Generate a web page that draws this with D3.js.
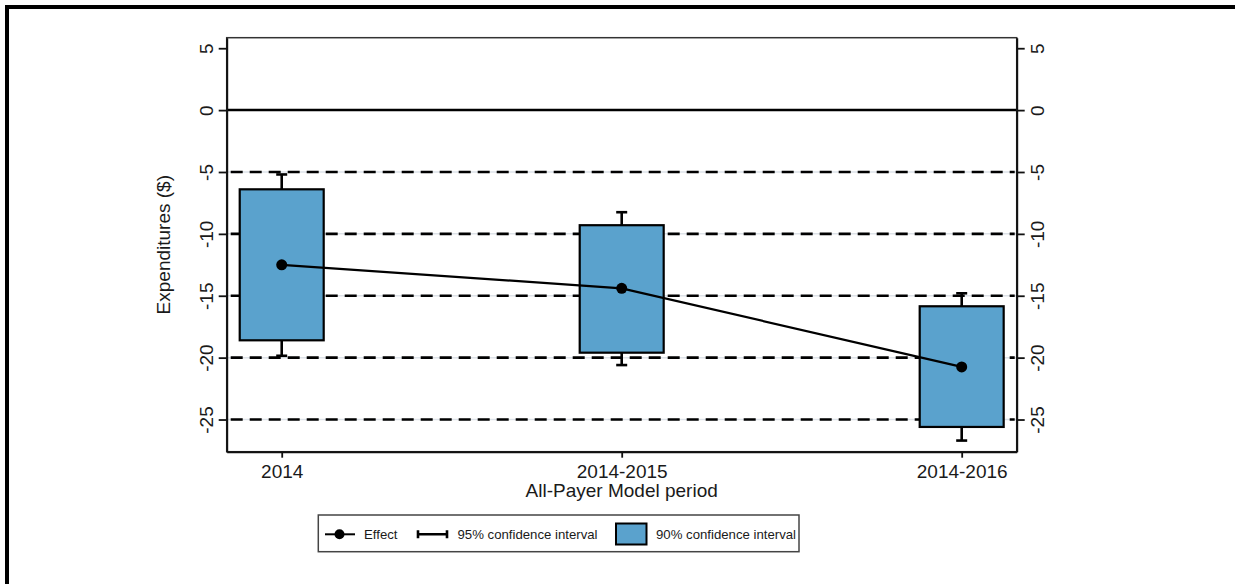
<!DOCTYPE html>
<html>
<head>
<meta charset="utf-8">
<script src="https://cdn.jsdelivr.net/npm/d3@7"></script>
<style>
  body { margin: 0; background: #fff; }
  text { font-family: "Liberation Sans", Arial, sans-serif; fill: #1a1a1a; }
</style>
</head>
<body>
<div id="root"></div>
<script>
// data
const categories = ["2014", "2014-2015", "2014-2016"]
const effect = [-12.5, -14.4, -20.75]
const ci90Lo = [-18.6, -19.6, -25.6]
const ci90Hi = [-6.4, -9.3, -15.85]
const ci95Lo = [-19.85, -20.6, -26.7]
const ci95Hi = [-5.2, -8.25, -14.8]
const yTicks = [5, 0, -5, -10, -15, -20, -25]
const dashedAt = [-5, -10, -15, -20, -25]

const w = 1235
const h = 584
const pLeft = 226.7, pRight = 1016.7, pTop = 37.7, pBottom = 451.7
const boxColor = "#5aa2cd"

const svg = d3.select("#root")
    .append("svg")
    .attr("width", w)
    .attr("height", h)

// outer frame (top and left only)
svg.append("path")
    .attr("d", `M7,${h} V7 H${w}`)
    .attr("fill", "none")
    .attr("stroke", "#000")
    .attr("stroke-width", 4)

const x = d3.scalePoint()
    .domain(categories)
    .range([pLeft, pRight])
    .padding(0.1618)

const y = d3.scaleLinear()
    .domain([-27.6, 5.85])
    .range([pBottom, pTop])

const boxW = x.step() * 0.247
const capW = 11

// light grid under the dashed lines
svg.append("g").selectAll("line")
    .data(dashedAt)
    .enter()
    .append("line")
    .attr("x1", pLeft).attr("x2", pRight)
    .attr("y1", d => y(d)).attr("y2", d => y(d))
    .attr("stroke", "#dde2e8")
    .attr("stroke-width", 1.5)

// dashed reference lines
svg.append("g").selectAll("line")
    .data(dashedAt)
    .enter()
    .append("line")
    .attr("x1", pLeft + 4).attr("x2", pRight - 2)
    .attr("y1", d => y(d)).attr("y2", d => y(d))
    .attr("stroke", "#000")
    .attr("stroke-width", 2.6)
    .attr("stroke-dasharray", "12,7")

// zero line
svg.append("line")
    .attr("x1", pLeft).attr("x2", pRight)
    .attr("y1", y(0)).attr("y2", y(0))
    .attr("stroke", "#000")
    .attr("stroke-width", 2.5)

const idx = d3.range(categories.length)

// 95% whiskers
const wh = svg.append("g")
    .attr("stroke", "#000")
    .attr("stroke-width", 2.6)
wh.selectAll("line.v")
    .data(idx)
    .enter()
    .append("line")
    .attr("class", "v")
    .attr("x1", i => x(categories[i])).attr("x2", i => x(categories[i]))
    .attr("y1", i => y(ci95Lo[i])).attr("y2", i => y(ci95Hi[i]))
wh.selectAll("line.cap")
    .data(idx.flatMap(i => [[i, ci95Lo[i]], [i, ci95Hi[i]]]))
    .enter()
    .append("line")
    .attr("class", "cap")
    .attr("x1", d => x(categories[d[0]]) - capW / 2)
    .attr("x2", d => x(categories[d[0]]) + capW / 2)
    .attr("y1", d => y(d[1])).attr("y2", d => y(d[1]))

// 90% boxes
svg.append("g").selectAll("rect")
    .data(idx)
    .enter()
    .append("rect")
    .attr("x", i => x(categories[i]) - boxW / 2)
    .attr("width", boxW)
    .attr("y", i => y(ci90Hi[i]))
    .attr("height", i => y(ci90Lo[i]) - y(ci90Hi[i]))
    .attr("fill", boxColor)
    .attr("stroke", "#000")
    .attr("stroke-width", 2.2)

// effect line and points
const line = d3.line()
    .x(i => x(categories[i]))
    .y(i => y(effect[i]))

svg.append("path")
    .attr("d", line(idx))
    .attr("fill", "none")
    .attr("stroke", "#000")
    .attr("stroke-width", 2.2)

svg.append("g").selectAll("circle")
    .data(idx)
    .enter()
    .append("circle")
    .attr("cx", i => x(categories[i]))
    .attr("cy", i => y(effect[i]))
    .attr("r", 5.5)
    .attr("fill", "#000")

// plot region outline
svg.append("rect")
    .attr("x", pLeft).attr("y", pTop)
    .attr("width", pRight - pLeft).attr("height", pBottom - pTop)
    .attr("fill", "none")
    .attr("stroke", "#333")
    .attr("stroke-width", 1.5)

// axes
const fmt = d => String(d)
const yLeft = svg.append("g")
    .attr("transform", `translate(${pLeft},0)`)
    .call(d3.axisLeft(y).tickValues(yTicks).tickSize(8).tickSizeOuter(0).tickFormat(fmt))
yLeft.selectAll("text")
    .attr("x", null).attr("dy", null)
    .attr("text-anchor", "middle")
    .attr("transform", "translate(-14,0) rotate(-90)")

const yRight = svg.append("g")
    .attr("transform", `translate(${pRight},0)`)
    .call(d3.axisRight(y).tickValues(yTicks).tickSize(8).tickSizeOuter(0).tickFormat(fmt))
yRight.selectAll("text")
    .attr("x", null).attr("dy", null)
    .attr("text-anchor", "middle")
    .attr("transform", "translate(27,0) rotate(-90)")

const xAxis = svg.append("g")
    .attr("transform", `translate(0,${pBottom})`)
    .call(d3.axisBottom(x).tickSize(6).tickSizeOuter(0))
xAxis.selectAll("text")
    .attr("y", 26).attr("dy", null)

for (const g of [yLeft, yRight, xAxis]) {
    g.attr("font-family", null).attr("font-size", null)
    g.selectAll("text").style("font-size", "19px").attr("fill", "#1a1a1a")
    g.select(".domain").attr("stroke", "#111").attr("stroke-width", 2)
    g.selectAll(".tick line").attr("stroke", "#111").attr("stroke-width", 1.8)
}

// axis titles
svg.append("text")
    .attr("x", (pLeft + pRight) / 2)
    .attr("y", 497)
    .attr("text-anchor", "middle")
    .style("font-size", "19px")
    .text("All-Payer Model period")

svg.append("text")
    .attr("transform", `translate(170,${(pTop + pBottom) / 2}) rotate(-90)`)
    .attr("text-anchor", "middle")
    .style("font-size", "19px")
    .text("Expenditures ($)")

// legend
const lg = svg.append("g")
const ly = 534.3
lg.append("rect")
    .attr("x", 318.3).attr("y", 515)
    .attr("width", 799 - 318.3).attr("height", 551.7 - 515)
    .attr("fill", "#fff")
    .attr("stroke", "#444")
    .attr("stroke-width", 1.5)

lg.append("line")
    .attr("x1", 325).attr("x2", 355)
    .attr("y1", ly).attr("y2", ly)
    .attr("stroke", "#000").attr("stroke-width", 2)
lg.append("circle")
    .attr("cx", 339.5).attr("cy", ly).attr("r", 5)
    .attr("fill", "#000")

lg.append("path")
    .attr("d", `M418,${ly} H447 M418,${ly - 4} V${ly + 4} M447,${ly - 4} V${ly + 4}`)
    .attr("stroke", "#000").attr("stroke-width", 2.6)
    .attr("fill", "none")

lg.append("rect")
    .attr("x", 616).attr("y", 523.5)
    .attr("width", 30.5).attr("height", 21)
    .attr("fill", boxColor)
    .attr("stroke", "#000").attr("stroke-width", 2)

const legendLabels = [["Effect", 364], ["95% confidence interval", 457.5], ["90% confidence interval", 656]]
lg.selectAll("text.lbl")
    .data(legendLabels)
    .enter()
    .append("text")
    .attr("class", "lbl")
    .attr("x", d => d[1])
    .attr("y", ly + 4.8)
    .style("font-size", "13.2px")
    .text(d => d[0])
</script>
</body>
</html>
